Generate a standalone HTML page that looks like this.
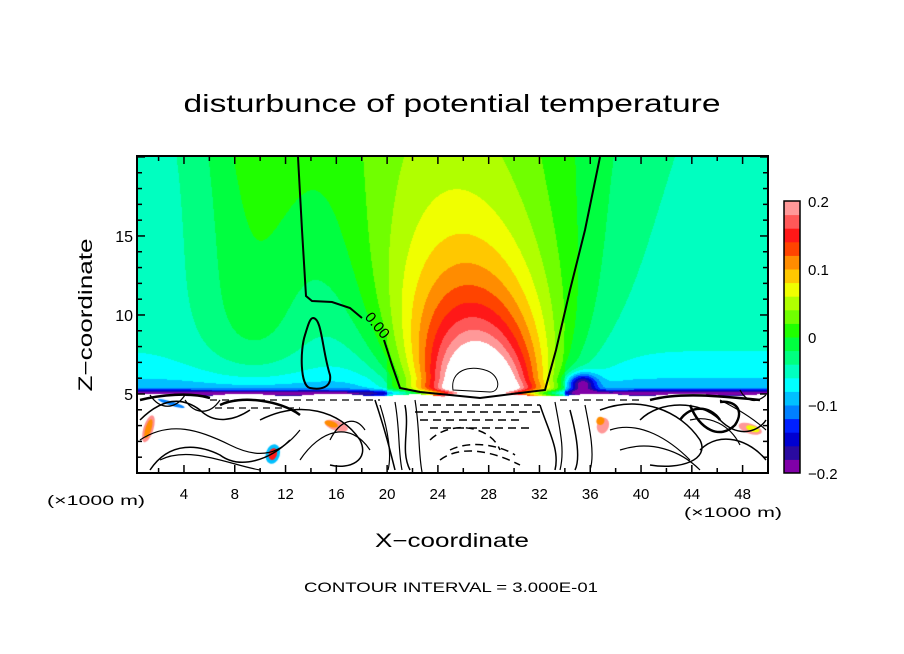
<!DOCTYPE html>
<html><head><meta charset="utf-8">
<style>
body{margin:0;background:#fff;width:904px;height:654px;overflow:hidden;font-family:"Liberation Sans",sans-serif}
#wrap{position:relative;width:904px;height:654px}
canvas{position:absolute;left:0;top:0}
svg{position:absolute;left:0;top:0}
</style></head>
<body>
<div id="wrap">
<canvas id="cv" width="904" height="654"></canvas>
<svg id="sv" width="904" height="654">
<text x="452" y="112" font-size="25" text-anchor="middle" textLength="537" lengthAdjust="spacingAndGlyphs">disturbunce of potential temperature</text>
<text transform="translate(92,315) rotate(-90)" font-size="19" text-anchor="middle" textLength="153" lengthAdjust="spacingAndGlyphs">Z−coordinate</text>
<text x="452" y="547" font-size="19" text-anchor="middle" textLength="154" lengthAdjust="spacingAndGlyphs">X−coordinate</text>
<text x="96" y="505" font-size="14" text-anchor="middle" textLength="98" lengthAdjust="spacingAndGlyphs">(×1000 m)</text>
<text x="733" y="517" font-size="14" text-anchor="middle" textLength="98" lengthAdjust="spacingAndGlyphs">(×1000 m)</text>
<text x="451" y="592" font-size="14" text-anchor="middle" textLength="294" lengthAdjust="spacingAndGlyphs">CONTOUR INTERVAL = 3.000E-01</text>
<g id="lines" fill="none" stroke="#000" stroke-width="2">
<path d="M298,157 L302,230 L306,296 L312,301 L332,302 L350,308 L362,318"/>
<path d="M384,340 L392,365 L400,388 L420,392 L480,398 L520,393 L545,390 L556,350 L570,290 L585,230 L600,157"/>
<path d="M313,318 C322,318 322,350 330,375 C332,388 320,390 310,388 C300,386 300,350 305,335 C308,325 310,318 313,318 Z"/>
<path d="M453,390 C450,370 470,365 485,370 C500,374 502,392 490,392 Z" stroke-width="1"/>
<path d="M140,420 C160,400 180,395 200,410 C215,425 235,420 250,410 M150,470 C170,440 200,445 220,455 C240,470 270,460 290,440 M260,420 C300,400 340,410 360,440 C370,460 350,470 330,465 M375,400 C385,430 390,450 395,470 M405,405 C410,430 400,450 410,470 M540,405 C548,430 560,450 555,470 M570,410 C578,440 580,460 575,470 M600,410 C640,395 680,410 700,440 C710,460 680,470 650,465 M640,420 C660,400 700,400 720,420 C740,440 760,430 766,420 M700,450 C720,430 750,440 766,460" stroke-width="1.5"/>
<path d="M140,440 C170,420 200,430 230,445 C260,460 280,455 300,430 M160,460 C190,445 230,465 260,470 M300,460 C320,430 350,420 370,450 M330,440 C340,420 355,415 365,430 M380,405 C388,430 392,455 388,470 M395,402 C400,430 398,450 402,470 M415,400 C420,430 418,450 422,472 M555,402 C560,430 565,450 560,470 M585,405 C590,430 595,455 590,470 M610,430 C640,420 670,440 690,460 M620,450 C650,440 680,450 700,470 M720,400 C740,410 755,420 766,430 M690,420 C710,415 730,425 740,445 M150,395 C160,410 175,410 185,395 M185,400 C195,415 210,415 220,400 M740,390 C745,400 755,405 766,395" stroke-width="1.2"/>
<path d="M220,405 C240,395 280,400 300,415 M650,400 C680,392 720,396 760,400 M680,420 C690,405 710,405 720,420 M140,400 C160,395 190,392 210,398 M690,405 C700,430 720,440 735,425 C745,410 735,400 720,402" stroke-width="2.5"/>
<path d="M420,405 L540,405 M415,412 L545,412 M420,420 L520,420 M430,440 C450,420 490,425 500,450 M440,460 C460,445 490,450 520,465 M430,428 L530,428 M450,450 C470,440 500,445 515,455" stroke-width="1.5" stroke-dasharray="8,5"/>
<path d="M210,400 L380,400 M560,400 L640,400 M215,408 L300,408" stroke-width="1.3" stroke-dasharray="7,5"/>
</g>
<text x="362" y="322" font-size="15" transform="rotate(50 368 322)">0.00</text>
</svg>
</div>
<script>
// ---- data arrays ----
const levels = [-0.2,-0.18,-0.16,-0.14,-0.12,-0.1,-0.08,-0.06,-0.04,-0.02,0,0.02,0.04,0.06,0.08,0.1,0.12,0.14,0.16,0.18,0.2];
const colors = ["#8000a8","#2a0aa0","#0000d0","#0020ff","#0080ff","#00c0ff","#00ffff","#00ffc0","#00ff80","#00ff40","#20ff00","#70ff00","#b0ff00","#f0ff00","#ffc800","#ff8c00","#ff4400","#ff1818","#ff5858","#ff9898"];
const xTicks = [4,8,12,16,20,24,28,32,36,40,44,48];
const yTicks = [5,10,15];
const cbLabels = ["0.2","0.1","0","−0.1","−0.2"];
const cbValues = [0.2,0.1,0,-0.1,-0.2];
// plume model parameters
const plumeCenter = [27.3, -0.15];
const plumeAmp = [0.08, 0.3, 5.5];
const plumeWidth = [5.2, 0.45];
const background = -0.05;
const surfaceZ = 4.95;

// ---- axes ----
const X0=137,X1=768,Y0=156,Y1=473;
const xmin=0.3,xmax=50,zmin=0,zmax=20.06;
const sx=x=>X0+(x-xmin)/(xmax-xmin)*(X1-X0);
const sz=z=>Y1-(z-zmin)/(zmax-zmin)*(Y1-Y0);
const ix=p=>xmin+(p-X0)/(X1-X0)*(xmax-xmin);
const iz=p=>zmin+(Y1-p)/(Y1-Y0)*(zmax-zmin);

function field(x,z){
  let c=plumeCenter[0]+plumeCenter[1]*(z-6);
  let a=plumeAmp[0]+plumeAmp[1]*Math.exp(-(z-5.3)/plumeAmp[2]);
  let w=plumeWidth[0]+plumeWidth[1]*Math.max(z-6,0);
  let v=background+a*Math.exp(-Math.pow((x-c)/w,2));
  v+=0.045*Math.exp(-Math.pow((x-9.5)/4.5,2))*(1-Math.exp(-(z-5)/2));
  v-=0.035*Math.exp(-(z-5)/2)*(x<20||x>34?1:0.3);
  v-=0.03*Math.exp(-(z-5)/0.8)*(x<20||x>34?1:0.2);
  v-=0.08*Math.exp(-Math.pow((z-5.05)/0.2,2));
  v-=0.14*Math.exp(-Math.pow((x-35.3)/1.2,2)-Math.pow((z-5.6)/0.7,2));
  return v;
}
function colorOf(v){
  if(v>=levels[levels.length-1]) return "#ffffff";
  if(v<levels[0]) return colors[0];
  for(let i=0;i<colors.length;i++) if(v<levels[i+1]) return colors[i];
  return colors[colors.length-1];
}
function hex(c){return [parseInt(c.substr(1,2),16),parseInt(c.substr(3,2),16),parseInt(c.substr(5,2),16)];}

const cv=document.getElementById('cv'),ctx=cv.getContext('2d');
const img=ctx.createImageData(X1-X0,Y1-Y0);
for(let py=Y0;py<Y1;py++){
  const z=iz(py+0.5);
  for(let px=X0;px<X1;px++){
    const x=ix(px+0.5);
    let rgb=[255,255,255];
    const zs=surfaceZ+0.08*Math.sin(x*0.9)-0.2*Math.exp(-Math.pow((x-27)/4,2));
    if(z>zs) rgb=hex(colorOf(field(x,z)));
    const k=((py-Y0)*(X1-X0)+(px-X0))*4;
    img.data[k]=rgb[0];img.data[k+1]=rgb[1];img.data[k+2]=rgb[2];img.data[k+3]=255;
  }
}
ctx.putImageData(img,X0,Y0);
function streak(x,z,w,h,col){ctx.fillStyle=col;ctx.beginPath();ctx.ellipse(sx(x),sz(z),w,h,0.3,0,Math.PI*2);ctx.fill();}
streak(1.2,2.8,5,14,"#ff9090");streak(1.2,2.8,3,10,"#ff8c00");
streak(3,4.4,14,2,"#0080ff");
streak(16,3.0,12,5,"#ff9898");streak(15.6,3.1,7,3,"#ff8c00");
streak(11,1.2,7,10,"#00c0ff");streak(11,1.2,4,6,"#ff1818");
streak(37,3.0,6,8,"#ff9898");streak(36.8,3.3,4,4,"#ff8c00");
streak(48.6,2.8,12,5,"#ff9898");streak(48.8,2.8,7,3,"#f0ff00");

const NS='http://www.w3.org/2000/svg';
const sv=document.getElementById('sv');
function mk(tag,attrs){const e=document.createElementNS(NS,tag);for(const k in attrs)e.setAttribute(k,attrs[k]);sv.appendChild(e);return e;}
const fr=mk('rect',{x:X0,y:Y0,width:X1-X0,height:Y1-Y0,fill:'none',stroke:'#000','stroke-width':2});


for(let x=2;x<=50;x+=2){
  const L=(x%4===0)?8:5;
  const t1=mk('line',{x1:sx(x),x2:sx(x),y1:Y1,y2:Y1-L,stroke:'#000','stroke-width':1.5});
  
  
  const t2=mk('line',{x1:sx(x),x2:sx(x),y1:Y0,y2:Y0+L,stroke:'#000','stroke-width':1.5});
  
  
}
for(let z=1;z<=20;z++){
  const L=(z%5===0)?8:5;
  const t1=mk('line',{x1:X0,x2:X0+L,y1:sz(z),y2:sz(z),stroke:'#000','stroke-width':1.5});
  
  
  const t2=mk('line',{x1:X1,x2:X1-L,y1:sz(z),y2:sz(z),stroke:'#000','stroke-width':1.5});
  
  
}
xTicks.forEach(v=>{
  const t=mk('text',{x:sx(v),y:499,'font-size':15,'text-anchor':'middle'});t.textContent=v;
  
  
});
yTicks.forEach(v=>{
  const t=mk('text',{x:133,y:sz(v)+6,'font-size':16,'text-anchor':'end'});t.textContent=v;
  
  
});
const CB0=201,CB1=473,CBX=784,CBW=16;
const cbY=v=>CB1-(v-levels[0])/(levels[levels.length-1]-levels[0])*(CB1-CB0);
colors.forEach((c,i)=>{
  const r=mk('rect',{x:CBX,y:cbY(levels[i+1]),width:CBW,height:cbY(levels[i])-cbY(levels[i+1])+0.5,fill:c});
  
  
});
const cbf=mk('rect',{x:CBX,y:CB0,width:CBW,height:CB1-CB0,fill:'none',stroke:'#000','stroke-width':1.5});


cbLabels.forEach((s,i)=>{
  const t=mk('text',{x:808,y:cbY(cbValues[i])+6,'font-size':15});t.textContent=s;
  
  
});
</script>
</body></html>
